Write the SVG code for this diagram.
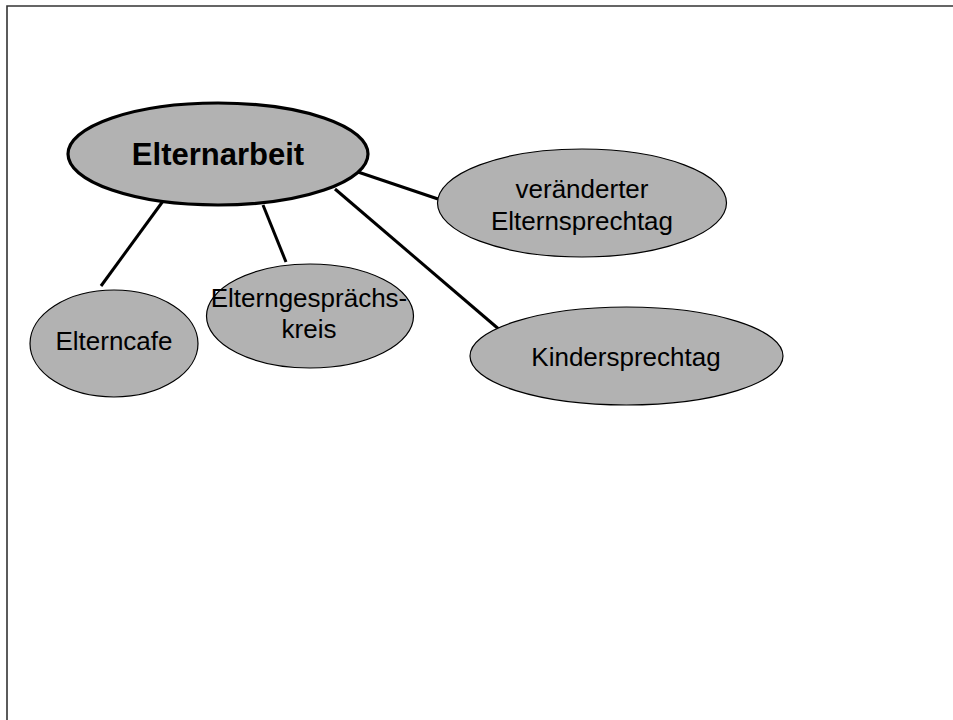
<svg xmlns="http://www.w3.org/2000/svg" width="953" height="720" viewBox="0 0 953 720">
<style>
.node{fill:#b2b2b2;stroke:#000;stroke-width:1.2}
.main{fill:#b2b2b2;stroke:#000;stroke-width:3.2}
.lbl{font-family:"Liberation Sans",Arial,sans-serif;font-size:26px;fill:#000;text-anchor:middle}
.bold{font-weight:bold;font-size:31px}
.conn line{stroke:#000;stroke-width:3;stroke-linecap:butt}
</style>
<rect width="953" height="720" fill="#fff"/>
<path d="M7,720 V6 H953" fill="none" stroke="#333" stroke-width="1.6"/>
<g id="connectors" class="conn">
<line x1="166" y1="197" x2="101" y2="286"/>
<line x1="263" y1="205" x2="286" y2="262"/>
<line x1="358" y1="172" x2="438" y2="199"/>
<line x1="335" y1="189" x2="501" y2="331"/>
</g>
<g id="elternarbeit">
<ellipse class="main" cx="218" cy="154" rx="150" ry="51"/>
<text class="lbl bold" x="218" y="165">Elternarbeit</text>
</g>
<g id="elternsprechtag">
<ellipse class="node" cx="582" cy="203" rx="144.5" ry="54"/>
<text class="lbl" x="582" y="198">veränderter</text>
<text class="lbl" x="582" y="230">Elternsprechtag</text>
</g>
<g id="elterncafe">
<ellipse class="node" cx="114" cy="343.5" rx="84" ry="53.5"/>
<text class="lbl" x="114" y="350">Elterncafe</text>
</g>
<g id="elterngespraechskreis">
<ellipse class="node" cx="310" cy="316" rx="103.5" ry="52"/>
<text class="lbl" x="309" y="307">Elterngesprächs-</text>
<text class="lbl" x="309" y="338">kreis</text>
</g>
<g id="kindersprechtag">
<ellipse class="node" cx="626.5" cy="356" rx="156.5" ry="49"/>
<text class="lbl" x="626" y="366">Kindersprechtag</text>
</g>
</svg>
